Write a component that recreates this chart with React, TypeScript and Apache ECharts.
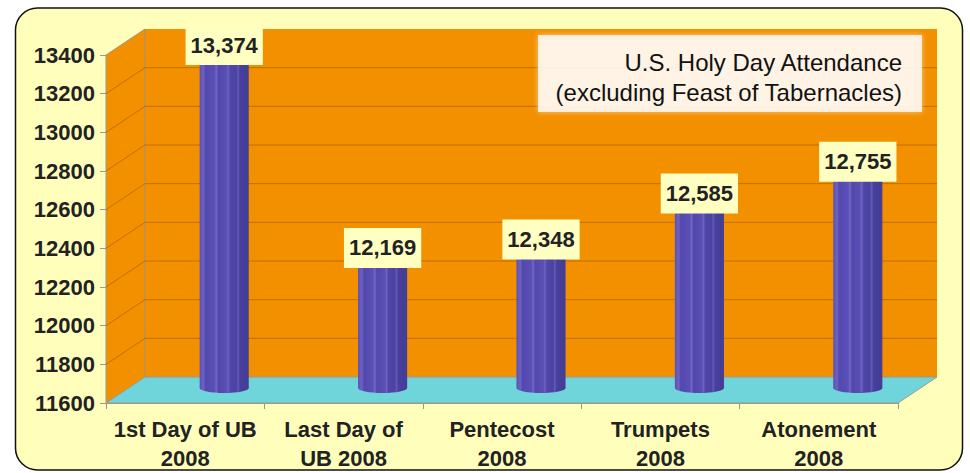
import { useEffect, useRef } from "react";
import * as echarts from "echarts";

// ---- data ----
const categories = [
  "1st Day of UB\n2008",
  "Last Day of\nUB 2008",
  "Pentecost\n2008",
  "Trumpets\n2008",
  "Atonement\n2008",
];
const attendance = [13374, 12169, 12348, 12585, 12755];
const yMin = 11600;
const yMax = 13400;
const yStep = 200;
const titleLines = ["U.S. Holy Day Attendance", "(excluding Feast of Tabernacles)"];

// ---- style ----
const FONT = '"Liberation Sans", Arial, Helvetica, sans-serif';
const DX = 39;
const DY = 26;
const FRONT = { left: 106, top: 55, width: 792, height: 348 };
const ORANGE = "#F29000";
const GRID_LINE = "#BE6F00";
const FLOOR = "#6FD5DA";
const EDGE = "#9A9A8A";
const TEXT = "#222222";
const LABEL_NUDGE = [11, -19, 7, 7, 8];

export default function App() {
  const ref = useRef<HTMLDivElement>(null);
  useEffect(() => {
    if (!ref.current) return;
    const chart = echarts.init(ref.current, undefined, { renderer: "svg" });

    const ticks: number[] = [];
    for (let v = yMin; v <= yMax; v += yStep) ticks.push(v);

    const barFill = new echarts.graphic.LinearGradient(0, 0, 1, 0, [
      { offset: 0, color: "#5A50B4" },
      { offset: 0.08, color: "#6E62C4" },
      { offset: 0.12, color: "#5349AD" },
      { offset: 0.3, color: "#5A4FB6" },
      { offset: 0.34, color: "#7466C6" },
      { offset: 0.38, color: "#5248AC" },
      { offset: 0.55, color: "#5A4FB4" },
      { offset: 0.58, color: "#6F63C2" },
      { offset: 0.62, color: "#4F46A8" },
      { offset: 0.75, color: "#4B43A2" },
      { offset: 0.78, color: "#6659BA" },
      { offset: 0.82, color: "#47409C" },
      { offset: 1, color: "#443D96" },
    ]);

    const option: any = {
      animation: false,
      grid: [
        { ...FRONT },
        { left: FRONT.left + DX, top: FRONT.top - DY, width: FRONT.width, height: FRONT.height },
      ],
      xAxis: [
        {
          type: "category",
          gridIndex: 0,
          data: categories,
          axisLine: { show: true, lineStyle: { color: EDGE } },
          axisTick: { show: true, length: 6, lineStyle: { color: EDGE } },
          axisLabel: {
            interval: 0,
            margin: 12,
            color: TEXT,
            fontFamily: FONT,
            fontSize: 22,
            fontWeight: "bold",
            lineHeight: 29,
          },
          splitLine: { show: false },
        },
        {
          type: "category",
          gridIndex: 1,
          data: categories,
          show: false,
        },
      ],
      yAxis: [
        {
          type: "value",
          gridIndex: 0,
          min: yMin,
          max: yMax,
          interval: yStep,
          axisLine: { show: true, lineStyle: { color: EDGE } },
          axisTick: { show: true, length: 6, lineStyle: { color: EDGE } },
          axisLabel: {
            margin: 11,
            color: TEXT,
            fontFamily: FONT,
            fontSize: 22,
            fontWeight: "bold",
            formatter: (v: number) => String(v),
          },
          splitLine: { show: false },
        },
        {
          type: "value",
          gridIndex: 1,
          min: yMin,
          max: yMax,
          interval: yStep,
          show: false,
          splitLine: { show: false },
        },
      ],
      graphic: {
        elements: [
          {
            type: "rect",
            z: -100,
            shape: { x: 15.5, y: 8, width: 947, height: 462, r: 22 },
            style: { fill: "#FFFFBB", stroke: "#111111", lineWidth: 1.5 },
          },
          {
            type: "rect",
            z: 100,
            shape: { x: 538, y: 35, width: 384, height: 77 },
            style: {
              fill: "rgba(255,255,255,0.77)",
              shadowBlur: 5,
              shadowColor: "rgba(255,255,255,0.7)",
            },
          },
          {
            type: "text",
            z: 101,
            x: 902,
            y: 62,
            style: {
              text: titleLines[0],
              align: "right",
              verticalAlign: "middle",
              fill: "#111111",
              font: `24px ${FONT}`,
            },
          },
          {
            type: "text",
            z: 101,
            x: 902,
            y: 92,
            style: {
              text: titleLines[1],
              align: "right",
              verticalAlign: "middle",
              fill: "#111111",
              font: `24px ${FONT}`,
            },
          },
        ],
      },
      series: [
        {
          type: "custom",
          name: "walls",
          xAxisIndex: 0,
          yAxisIndex: 0,
          z: 1,
          silent: true,
          data: [[0, yMin]],
          renderItem: (params: any, api: any) => {
            const cs = params.coordSys;
            const x0 = cs.x;
            const w = cs.width;
            const yTop = api.coord([0, yMax])[1];
            const yBot = api.coord([0, yMin])[1];
            const children: any[] = [
              {
                type: "polygon",
                shape: { points: [[x0, yTop], [x0 + DX, yTop - DY], [x0 + DX, yBot - DY], [x0, yBot]] },
                style: { fill: ORANGE, stroke: EDGE, lineWidth: 1 },
              },
              {
                type: "rect",
                shape: { x: x0 + DX, y: yTop - DY, width: w, height: yBot - yTop },
                style: { fill: ORANGE },
              },
              {
                type: "line",
                shape: { x1: x0 + DX, y1: yTop - DY, x2: x0 + DX, y2: yBot - DY },
                style: { stroke: "#B8905A", lineWidth: 1 },
              },
            ];
            ticks.forEach((t) => {
              if (t === yMin || t === yMax) return;
              const y = api.coord([0, t])[1];
              children.push({
                type: "line",
                shape: { x1: x0, y1: y, x2: x0 + DX, y2: y - DY },
                style: { stroke: GRID_LINE, lineWidth: 1 },
              });
              children.push({
                type: "line",
                shape: { x1: x0 + DX, y1: y - DY, x2: x0 + DX + w, y2: y - DY },
                style: { stroke: GRID_LINE, lineWidth: 1 },
              });
            });
            children.push({
              type: "polygon",
              shape: {
                points: [[x0, yBot], [x0 + DX, yBot - DY], [x0 + w + DX, yBot - DY], [x0 + w, yBot]],
              },
              style: { fill: FLOOR, stroke: EDGE, lineWidth: 1 },
            });
            return { type: "group", children };
          },
        },
        {
          type: "custom",
          name: "attendance",
          xAxisIndex: 1,
          yAxisIndex: 1,
          z: 3,
          data: attendance.map((v, i) => [i, v]),
          renderItem: (params: any, api: any) => {
            const i = api.value(0);
            const v = api.value(1);
            const [cx, top] = api.coord([i, v]);
            const base = api.coord([i, yMin])[1];
            const bw = api.size([1, 0])[0] * 0.31;
            const bottom = base + 11;
            return {
              type: "group",
              children: [
                {
                  type: "ellipse",
                  shape: { cx, cy: bottom, rx: bw / 2, ry: 5 },
                  style: { fill: barFill },
                },
                {
                  type: "rect",
                  shape: { x: cx - bw / 2, y: top, width: bw, height: bottom - top },
                  style: { fill: barFill },
                },
                {
                  type: "text",
                  x: cx,
                  y: top + LABEL_NUDGE[params.dataIndex],
                  z2: 10,
                  style: {
                    text: Number(v).toLocaleString("en-US"),
                    align: "center",
                    verticalAlign: "middle",
                    fill: TEXT,
                    font: `bold 22px ${FONT}`,
                    backgroundColor: "#FFFFC2",
                    padding: [9, 5, 9, 5],
                  },
                },
              ],
            };
          },
        },
      ],
    };

    chart.setOption(option);
    return () => chart.dispose();
  }, []);

  return (
    <div
      ref={ref}
      style={{ position: "fixed", left: 0, top: 0, width: 970, height: 473, background: "#ffffff" }}
    />
  );
}
